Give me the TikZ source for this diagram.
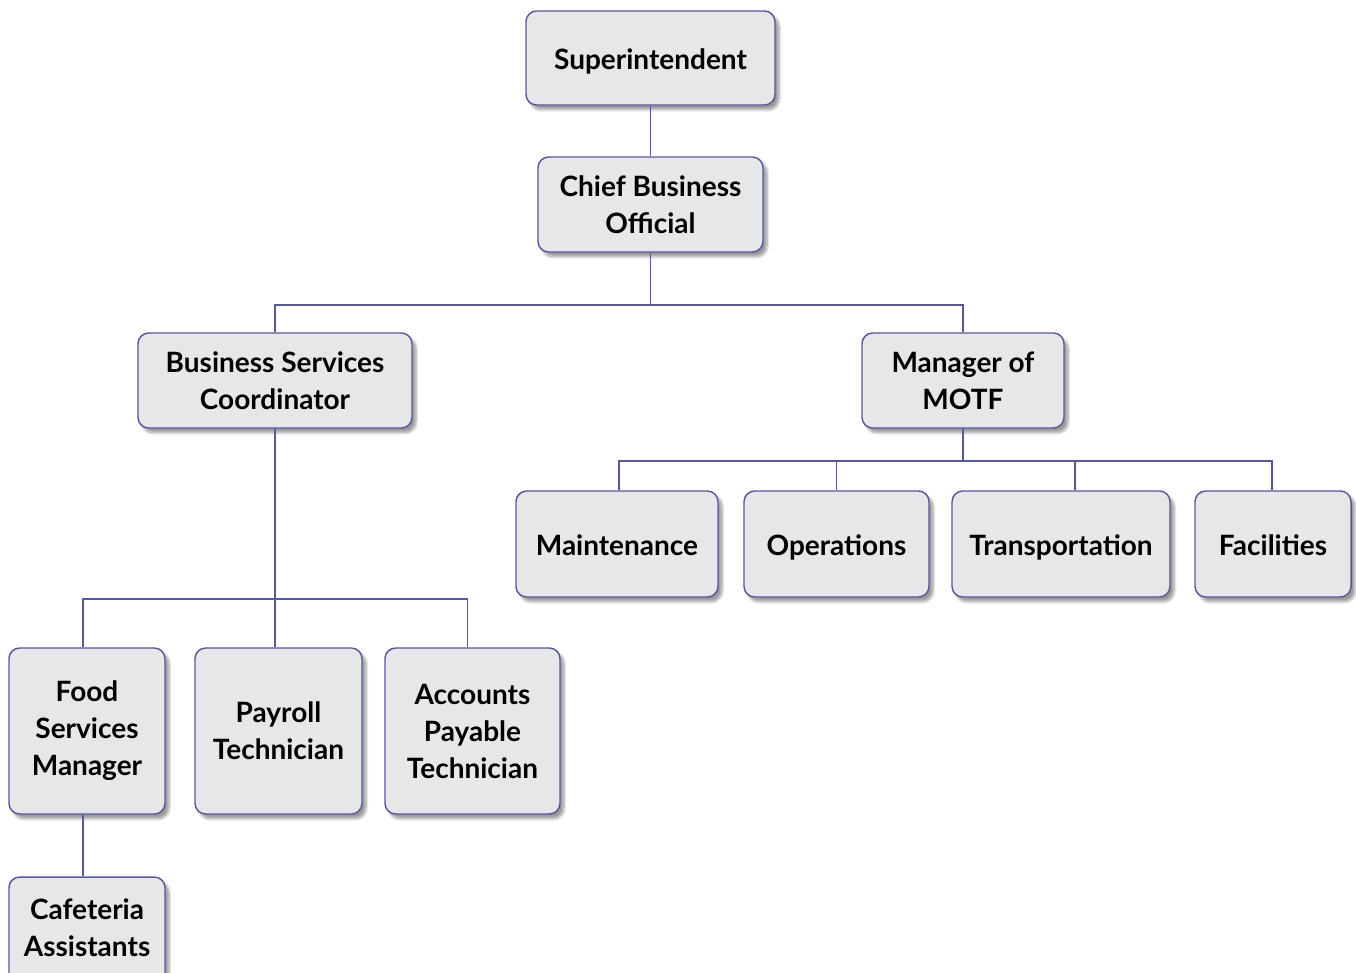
\documentclass[tikz,border=0pt]{standalone}
\usepackage{fontspec}
\setmainfont{Lato}
\usetikzlibrary{shadows.blur}
\definecolor{boxfill}{HTML}{E6E7E9}
\definecolor{boxline}{HTML}{5A579A}
\tikzset{
  orgbox/.style={draw=boxline, line width=1.1pt, fill=boxfill, rounded corners=8pt,
    align=center, inner sep=0pt, font=\fontsize{21}{27.75}\selectfont\bfseries,
    blur shadow={shadow xshift=3pt, shadow yshift=-3.5pt, shadow blur steps=8, shadow opacity=40}},
  oneline/.style={text height=17.5pt, text depth=0pt},
  orgtext/.style={align=center, inner sep=0pt, font=\fontsize{21}{27.75}\selectfont\bfseries},
  link/.style={draw=boxline, line width=0.9pt}
}
% place a box from its pixel extent: x0, y0, x1, y1, extra options, text
\newcommand{\orgnode}[7]{%
  \node[orgbox, #6, minimum width={(#4-#2)*0.75pt}, minimum height={(#5-#3)*0.75pt}]
    (#1) at ({(#2+#4)/2},{(#3+#5)/2}) {#7};}
\begin{document}
\begin{tikzpicture}[x=0.75pt, y=-0.75pt]
\useasboundingbox (0,0) rectangle (1356,972);
\coordinate (busA) at (0,305);
\coordinate (busB) at (0,461);
\coordinate (busC) at (0,599);
\orgnode{sup}{526}{11}{775}{105}{oneline}{Superintendent}
\orgnode{cbo}{538}{157}{763}{252}{yshift=0pt}{Chief Business\\Official}
\orgnode{bsc}{138}{333}{412}{428}{}{Business Services\\Coordinator}
\orgnode{motf}{862}{333}{1064}{428}{}{Manager of\\MOTF}
\orgnode{mnt}{516}{491}{718}{597}{oneline}{Maintenance}
\orgnode{ops}{744}{491}{929}{597}{oneline}{Operations}
\orgnode{trn}{952}{491}{1170}{597}{oneline}{Transportation}
\orgnode{fac}{1195}{491}{1351}{597}{oneline}{Facilities}
\orgnode{fsm}{9}{648}{165}{814}{}{Food\\Services\\Manager}
\orgnode{pay}{195}{648}{362}{814}{}{Payroll\\Technician}
\orgnode{acc}{385}{648}{560}{814}{}{Accounts\\Payable\\Technician}
\orgnode{caf}{9}{877}{165}{1018}{}{}
\node[orgtext] (caftext) at (87,928) {Cafeteria\\Assistants};
% connectors
\draw[link] (sup.south) -- (cbo.north);
\draw[link] (cbo.south) -- (cbo.south |- busA);
\draw[link] (bsc.north) |- (cbo.south |- busA) -| (motf.north);
\draw[link] (motf.south) -- (motf.south |- busB);
\draw[link] ([xshift=1.5pt]mnt.north) |- (motf.south |- busB) -| ([xshift=-0.75pt]fac.north);
\draw[link] (ops.north) -- (ops.north |- busB);
\draw[link] ([xshift=10.5pt]trn.north) -- ([xshift=10.5pt]trn.north |- busB);
\draw[link] (bsc.south) -- (bsc.south |- pay.north);
\draw[link] ([xshift=-3pt]fsm.north) |- (bsc.south |- busC) -| ([xshift=-4pt]acc.north);
\draw[link] ([xshift=-3pt]fsm.south) -- ([xshift=-3pt]caf.north);
\end{tikzpicture}
\end{document}
